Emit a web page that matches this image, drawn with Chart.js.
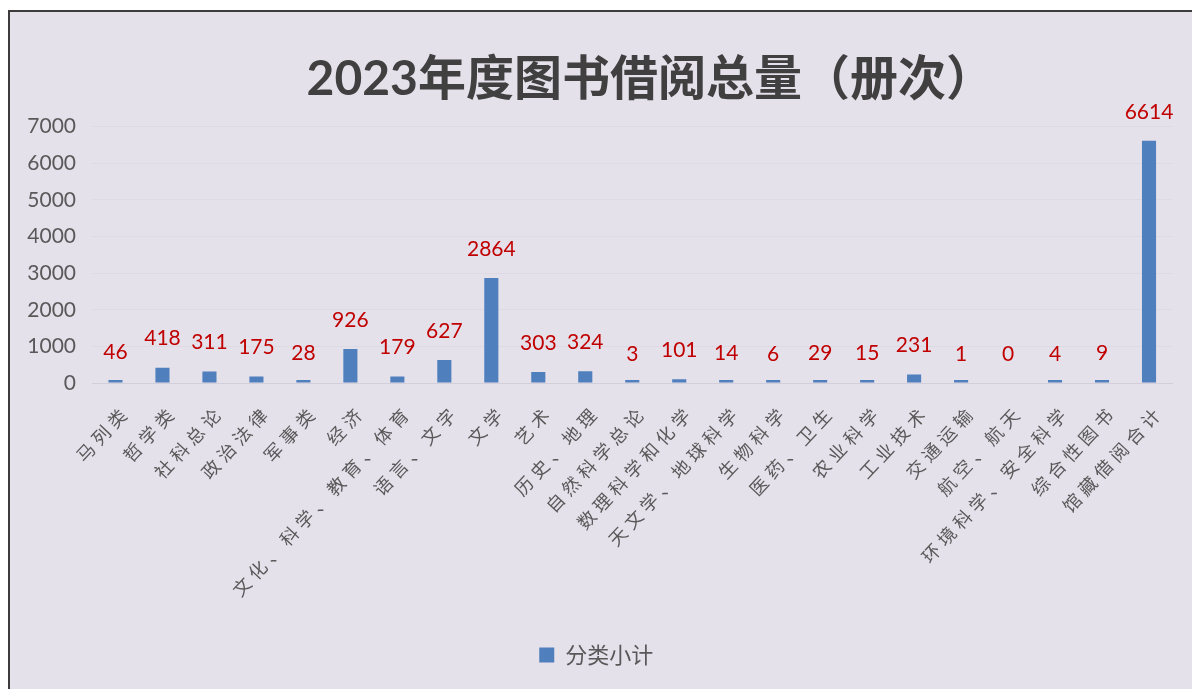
<!DOCTYPE html>
<html>
<head>
<meta charset="utf-8">
<script src="https://cdn.jsdelivr.net/npm/chart.js@4.4.1/dist/chart.umd.min.js"></script>
<style>
  html, body { margin: 0; padding: 0; background: #ffffff; overflow: hidden; }
  #wrap { position: relative; width: 1192px; height: 689px; overflow: hidden; }
  #frame { position: absolute; left: 8px; top: 10px; width: 1300px; height: 800px;
           border: 2px solid #3c3c3c; background: #e5e1eb; }
  #c { position: absolute; left: 0; top: 0; }
</style>
</head>
<body>
<div id="wrap">
  <div id="frame"></div>
  <canvas id="c" width="1192" height="689"></canvas>
</div>
<script>
const titleText = '2023年度图书借阅总量（册次）';
const seriesName = '分类小计';
const categories = [
  '马列类', '哲学类', '社科总论', '政治法律', '军事类', '经济',
  '文化、科学、教育、体育', '语言、文字', '文学', '艺术', '历史、地理',
  '自然科学总论', '数理科学和化学', '天文学、地球科学', '生物科学',
  '医药、卫生', '农业科学', '工业技术', '交通运输', '航空、航天',
  '环境科学、安全科学', '综合性图书', '馆藏借阅合计'
];
const values = [46, 418, 311, 175, 28, 926, 179, 627, 2864, 303, 324, 3, 101, 14, 6, 29, 15, 231, 1, 0, 4, 9, 6614];
const yTicks = [0, 1000, 2000, 3000, 4000, 5000, 6000, 7000];

const BAR = '#4f7fbd';
const NUM_FONT = "Lato, 'Noto Sans CJK SC', sans-serif";
const CJK_FONT = "'Noto Sans CJK SC', sans-serif";

const valueLabels = {
  id: 'valueLabels',
  afterDatasetsDraw(chart) {
    const ctx = chart.ctx;
    const ys = chart.scales.y;
    const meta = chart.getDatasetMeta(0);
    ctx.save();
    ctx.font = '21px ' + NUM_FONT;
    ctx.fillStyle = '#c00000';
    ctx.textAlign = 'center';
    ctx.textBaseline = 'middle';
    meta.data.forEach((bar, i) => {
      const v = chart.data.datasets[0].data[i];
      ctx.fillText(String(v), bar.x, ys.getPixelForValue(v) - 29);
    });
    ctx.restore();
  }
};

const tweaks = {
  id: 'tweaks',
  afterLayout(chart) {
    const s = chart.scales.x;
    if (!s._spaced) {
      const orig = s.drawLabels;
      s.drawLabels = function (ca) {
        const ctx = this.ctx;
        ctx.save();
        ctx.translate(11, 6);
        ctx.letterSpacing = '5px';
        orig.call(this, ca);
        ctx.restore();
      };
      s._spaced = true;
    }
    if (chart.titleBlock) {
      chart.titleBlock.left += 54;
      chart.titleBlock.right += 54;
    }
  }
};

new Chart(document.getElementById('c'), {
  type: 'bar',
  data: {
    labels: categories,
    datasets: [{
      label: seriesName,
      data: values,
      backgroundColor: (c) => (c.raw === 0 ? 'rgba(0,0,0,0)' : BAR),
      borderWidth: 0,
      minBarLength: 3,
      barPercentage: 0.3,
      categoryPercentage: 1.0
    }]
  },
  options: {
    responsive: false,
    animation: false,
    events: [],
    layout: { padding: { left: 20, right: 19.5, top: 10, bottom: 13 } },
    plugins: {
      title: {
        display: true,
        text: titleText,
        color: '#404040',
        font: { family: NUM_FONT, size: 48, weight: 'bold', lineHeight: 1.2 },
        padding: { top: 41, bottom: 18 }
      },
      legend: {
        display: true,
        position: 'bottom',
        labels: {
          color: '#595959',
          font: { family: CJK_FONT, size: 22 },
          boxWidth: 15,
          boxHeight: 15,
          padding: 10,
          generateLabels: (chart) => [{
            text: seriesName, fillStyle: BAR, strokeStyle: BAR, lineWidth: 0,
            hidden: false, datasetIndex: 0, fontColor: '#595959'
          }]
        }
      },
      tooltip: { enabled: false }
    },
    scales: {
      x: {
        grid: { display: false, drawTicks: false },
        border: { display: true, color: '#d3cfda', width: 1 },
        ticks: {
          autoSkip: false,
          minRotation: 47,
          maxRotation: 47,
          padding: 12,
          color: '#595959',
          font: { family: CJK_FONT, size: 18 }
        },
        afterFit: (s) => { s.height = 251; }
      },
      y: {
        min: 0,
        max: 7000,
        afterBuildTicks: (s) => { s.ticks = yTicks.map(v => ({ value: v })); },
        grid: { color: '#dedae4', drawTicks: false },
        border: { display: false },
        ticks: {
          padding: 16,
          color: '#595959',
          font: { family: NUM_FONT, size: 21 },
          callback: (v) => String(v)
        },
        afterFit: (s) => { s.width = 72; }
      }
    }
  },
  plugins: [valueLabels, tweaks]
});
</script>
</body>
</html>
